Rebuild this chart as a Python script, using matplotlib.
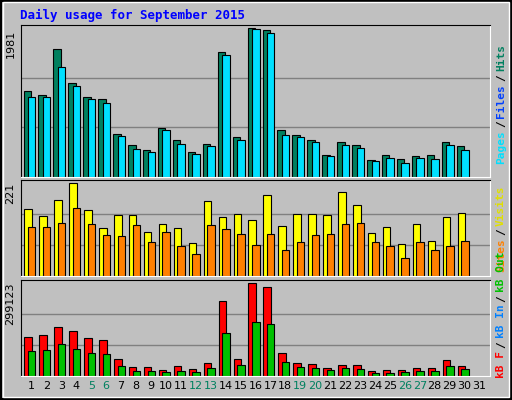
import numpy as np
import matplotlib
matplotlib.use("Agg")
import matplotlib.pyplot as plt

days = np.arange(1, 31)
hits_y = [274, 286, 151, 250, 292, 298, 403, 436, 451, 385, 421, 457, 433, 160, 412,
          88, 94, 391, 406, 421, 466, 427, 436, 481, 466, 478, 469, 466, 427, 439]
files_y = [292, 292, 205, 259, 298, 310, 409, 448, 457, 391, 433, 463, 439, 169, 421,
           91, 103, 406, 412, 427, 469, 436, 445, 484, 475, 487, 475, 478, 436, 451]
pages_y = [301, 304, 250, 280, 313, 337, 424, 457, 466, 487, 454, 472, 451, 175, 436,
           106, 124, 409, 445, 445, 478, 463, 463, 502, 493, 490, 487, 484, 445, 463]
visits_y = [106, 127, 79, 28, 109, 163, 124, 124, 175, 151, 163, 205, 82, 130, 121,
            139, 64, 157, 121, 121, 124, 55, 94, 178, 160, 208, 151, 199, 130, 118]
sites_y = [160, 160, 148, 103, 151, 184, 187, 154, 202, 175, 214, 238, 154, 166, 181,
           211, 181, 226, 202, 184, 181, 151, 148, 202, 214, 250, 202, 226, 214, 199]
kbf_y = [487, 481, 457, 469, 490, 496, 550, 574, 574, 583, 571, 580, 562, 382, 550,
         328, 340, 535, 562, 565, 577, 568, 568, 586, 583, 583, 577, 577, 553, 571]
kbout_y = [529, 526, 508, 523, 535, 538, 571, 586, 586, 589, 586, 589, 577, 475, 568,
           442, 448, 559, 574, 577, 583, 577, 580, 592, 592, 589, 586, 586, 571, 580]

# pixel readings (3x zoom) -> values
hits = (530 - np.array(hits_y)) / 442 * 1981
files = (530 - np.array(files_y)) / 442 * 1981
pages = (530 - np.array(pages_y)) / 442 * 1981
visits = (304 - np.array(visits_y)) / 276 * 221
sites = (304 - np.array(sites_y)) / 276 * 221
kbf = (601 - np.array(kbf_y)) / 273 * 299123
kbin = np.zeros(30)
kbout = (601 - np.array(kbout_y)) / 273 * 299123
weekend = [5, 6, 12, 13, 19, 20, 26, 27]

W, H = 512, 400
fig = plt.figure(figsize=(W / 100, H / 100), dpi=100, facecolor="#C0C0C0")
ec = dict(edgecolor="black", linewidth=0.8)

def panel(y0, y1):
    ax = fig.add_axes([21 / W, 1 - y1 / H, 469 / W, (y1 - y0) / H])
    ax.set_facecolor("#C0C0C0")
    ax.set_xlim(0.3, 31.7)
    ax.set_xticks([])
    ax.set_yticks([])
    for s in ax.spines.values():
        s.set_color("black")
    ax.spines["right"].set_color("white")
    ax.spines["bottom"].set_color("white")
    return ax

def max_label(ax, txt):
    ax.text(-0.012, 0.97, txt, transform=ax.transAxes, rotation=90, ha="right",
            va="top", fontsize=8)

ax1 = panel(25, 177)
ax1.set_ylim(0, 1981 * 1.02)
for g in (1981 / 3, 1981 * 2 / 3):
    ax1.axhline(g, color="#808080", lw=1, zorder=0)
ax1.bar(days - 0.28, hits, 0.5, color="#00805F", **ec)
ax1.bar(days - 0.12, pages, 0.15, color="#0040FF", lw=0)
ax1.bar(days + 0.02, files, 0.5, color="#00E0FF", **ec)
max_label(ax1, "1981")

ax2 = panel(180, 276)
ax2.set_ylim(0, 221 * 1.03)
for g in (221 / 3, 221 * 2 / 3):
    ax2.axhline(g, color="#808080", lw=1, zorder=0)
ax2.bar(days - 0.22, visits, 0.5, color="#FFFF00", **ec)
ax2.bar(days + 0.02, sites, 0.5, color="#FF8000", **ec)
max_label(ax2, "221")

ax3 = panel(280, 376)
ax3.set_ylim(0, 299123 * 1.03)
for g in (299123 / 3, 299123 * 2 / 3):
    ax3.axhline(g, color="#808080", lw=1, zorder=0)
ax3.bar(days - 0.22, kbf, 0.5, color="#FF0000", **ec)
ax3.bar(days - 0.22, kbin, 0.15, color="#0080FF", lw=0)
ax3.bar(days + 0.02, kbout, 0.5, color="#00C000", **ec)
max_label(ax3, "299123")

for d in range(1, 32):
    ax3.text(d, -0.1, str(d), transform=ax3.get_xaxis_transform(), ha="center",
             va="center", fontsize=8, color="#00805F" if d in weekend else "black")

fig.text(20 / W, 1 - 15 / H, "Daily usage for September 2015", color="#0000FF",
         fontsize=9, fontweight="bold", family="DejaVu Sans Mono", va="center")

renderer = fig.canvas.get_renderer()

def right_label(parts, ybottom):
    # stack pieces upward from the bottom of the panel
    y = ybottom
    for txt, col in parts:
        t = fig.text(501 / W, 1 - y / H, txt, color=col, rotation=90, ha="center",
                     va="bottom", fontsize=8, family="DejaVu Sans Mono",
                     fontweight="bold")
        y -= t.get_window_extent(renderer).height + 3

right_label([("Pages", "#00E0FF"), ("/", "black"), ("Files", "#0040FF"),
             ("/", "black"), ("Hits", "#00805F")], 164)
right_label([("Sites", "#FF8000"), ("/", "black"), ("Visits", "#E0E000")], 272)
right_label([("kB F", "#FF0000"), ("/", "black"), ("kB In", "#0080FF"),
             ("/", "black"), ("kB Out", "#00C000")], 378)

# outer border
fig.add_artist(plt.Rectangle((0.002, 0.002), 0.996, 0.996, transform=fig.transFigure,
                             fill=False, edgecolor="black", lw=1.5))
fig.add_artist(plt.Rectangle((0.006, 0.008), 0.988, 0.986, transform=fig.transFigure,
                             fill=False, edgecolor="white", lw=1))

fig.savefig("out.png", dpi=100, facecolor=fig.get_facecolor())
